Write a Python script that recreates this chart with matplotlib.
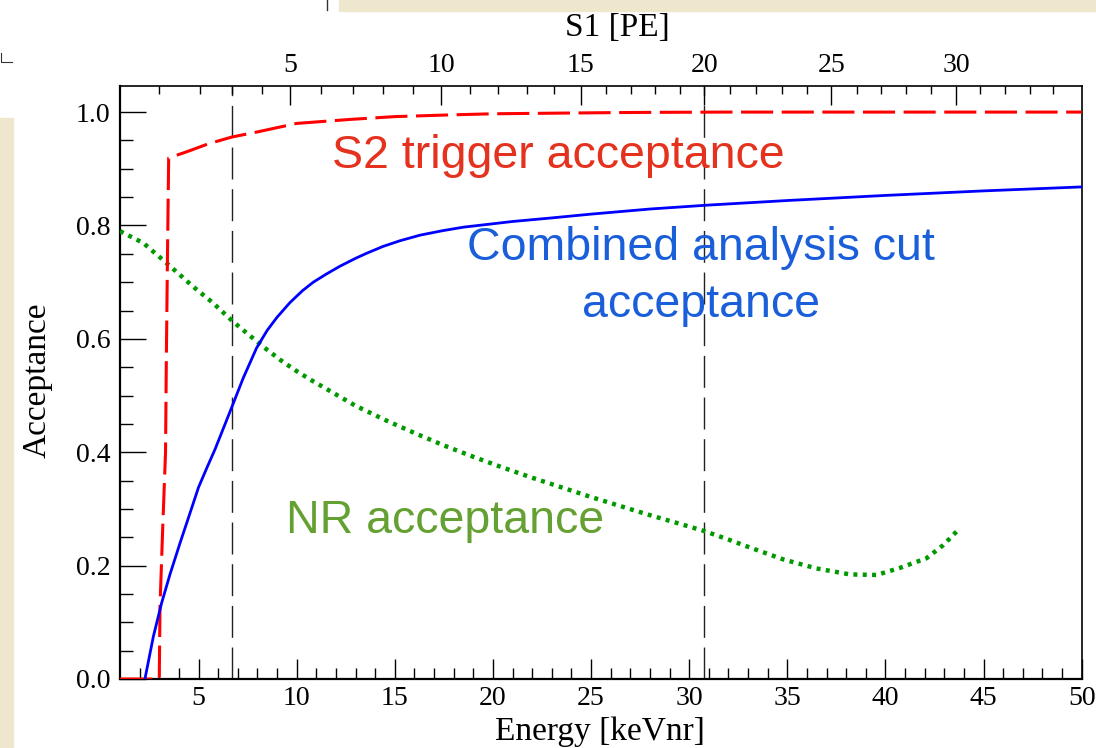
import matplotlib
matplotlib.use("Agg")
import matplotlib.pyplot as plt
from matplotlib.patches import Rectangle
from matplotlib.lines import Line2D

# Times-like serif for the axes, Helvetica-like sans for the annotations
plt.rcParams["font.family"] = ["Liberation Serif", "DejaVu Serif"]

# S2 trigger acceptance (red dashed)
s2_energy = [1.0, 3.0, 3.04, 3.18, 3.32, 3.36, 3.42, 3.48, 4.4, 5.5, 6.7, 8.0, 10.0,
             12.7, 15.0, 17.8, 20.0, 22.9, 26.0, 28.0, 32.0, 50.0]
s2_acc = [0.0, 0.0, 0.13, 0.27, 0.40, 0.56, 0.75, 0.919, 0.930, 0.944, 0.956, 0.965, 0.980,
          0.987, 0.992, 0.995, 0.997, 0.998, 0.999, 0.9995, 1.0, 1.0]

# combined analysis cut acceptance (blue solid)
cut_energy = [2.27, 2.7, 3.12, 3.55, 4.06, 4.57, 5.0, 5.42, 5.84, 6.3, 6.69, 7.28, 7.96,
              8.5, 9.0, 9.66, 10.3, 10.85, 11.5, 12.2, 13.0, 13.57, 14.4, 15.26, 16.3,
              17.47, 18.5, 19.5, 21.0, 22.9, 25.0, 28.0, 31.0, 35.0, 40.0, 45.0, 50.0]
cut_acc = [0.0, 0.075, 0.134, 0.185, 0.24, 0.293, 0.338, 0.372, 0.405, 0.445, 0.479,
           0.531, 0.584, 0.615, 0.638, 0.664, 0.685, 0.700, 0.714, 0.728, 0.742, 0.751,
           0.763, 0.773, 0.783, 0.791, 0.797, 0.801, 0.807, 0.813, 0.820, 0.829, 0.836,
           0.844, 0.853, 0.861, 0.868]

# NR acceptance (green dotted)
nr_energy = [1.0, 2.19, 3.46, 4.73, 5.75, 6.77, 8.3, 9.2, 10.0, 10.8, 11.5, 13.0, 14.5,
             16.0, 17.5, 19.0, 20.5, 22.0, 23.5, 25.0, 26.5, 28.0, 29.5, 30.77, 32.0,
             33.09, 34.79, 36.49, 38.19, 39.55, 40.74, 42.09, 42.94, 43.79]
nr_acc = [0.79, 0.769, 0.731, 0.692, 0.663, 0.630, 0.586, 0.562, 0.543, 0.526, 0.512,
          0.482, 0.457, 0.434, 0.412, 0.392, 0.373, 0.355, 0.338, 0.321, 0.305, 0.289,
          0.274, 0.261, 0.246, 0.232, 0.211, 0.195, 0.1845, 0.1835, 0.196, 0.213, 0.236,
          0.266]

# S1 window boundaries (S1 = 3 and 20 PE) in energy
window_energy = [6.69, 30.77]

# top axis: S1 [PE] tick values and where they sit in energy
s1_values = list(range(1, 35))
s1_energy = [3.00, 5.08, 6.69, 8.22, 9.66, 11.24, 12.85, 14.41, 15.91, 17.38, 18.83,
             20.27, 21.72, 23.12, 24.48, 25.76, 27.02, 28.25, 29.53, 30.77, 32.08, 33.40,
             34.71, 35.98, 37.25, 38.53, 39.77, 41.04, 42.31, 43.59, 44.81, 46.08, 47.36,
             48.54]

fig = plt.figure(figsize=(10.96, 7.48), dpi=100, facecolor="white")

# slide background bits around the picture
beige = "#efe7cd"
fig.patches.append(Rectangle((339 / 1096, 1 - 10.5 / 748), 1, 0.02,
                             transform=fig.transFigure, color=beige, zorder=-5))
fig.patches.append(Rectangle((0, 0), 12.5 / 1096, (748 - 118) / 748,
                             transform=fig.transFigure, color=beige, zorder=-5))
fig.lines.append(Line2D([327 / 1096, 327 / 1096], [1, 1 - 10 / 748],
                        transform=fig.transFigure, color="#333333", lw=1))
fig.lines.append(Line2D([1 / 1096, 1 / 1096, 12 / 1096], [1 - 53 / 748, 1 - 62 / 748, 1 - 62 / 748],
                        transform=fig.transFigure, color="#333333", lw=0.8))

ax = fig.add_axes([120 / 1096, 1 - 679 / 748, 961.7 / 1096, 593 / 748])

ax.plot(nr_energy, nr_acc, color="#009a00", lw=3.2, linestyle=(0, (0.9, 1.2)), zorder=3)
ax.plot(s2_energy, s2_acc, color="#ff0000", lw=2.2, linestyle=(0, (10.5, 2.8)), zorder=4)
ax.plot(cut_energy, cut_acc, color="#0000ff", lw=2.0, zorder=5)
for e in window_energy:
    ax.axvline(e, color="#222222", lw=1.0, linestyle=(0, (23, 7)), zorder=2)

ax.set_xlim(1, 50)
ax.set_ylim(0, 1.046)
ax.set_xticks([5, 10, 15, 20, 25, 30, 35, 40, 45, 50])
ax.set_xticks(range(2, 50), minor=True)
ax.set_yticks([0.0, 0.2, 0.4, 0.6, 0.8, 1.0])
ax.set_yticklabels(["0.0", "0.2", "0.4", "0.6", "0.8", "1.0"])
ax.set_yticks([i * 0.05 for i in range(21)], minor=True)
ax.tick_params(axis="x", which="both", direction="in", top=False, labelsize=20, pad=5, width=1.0)
ax.tick_params(axis="x", which="major", length=14.5)
ax.tick_params(axis="x", which="minor", length=8)
ax.tick_params(axis="y", which="both", direction="in", right=False, labelsize=20, pad=7, width=1.0)
ax.tick_params(axis="y", which="major", length=18.5)
ax.tick_params(axis="y", which="minor", length=9.5)
for side in ["left", "bottom"]:
    ax.spines[side].set_linewidth(1.6)
for side in ["top", "right"]:
    ax.spines[side].set_linewidth(1.2)

# top S1 axis
ax2 = ax.twiny()
ax2.set_xlim(ax.get_xlim())
major_e = [e for v, e in zip(s1_values, s1_energy) if v % 5 == 0]
major_l = [str(v) for v in s1_values if v % 5 == 0]
minor_e = [e for v, e in zip(s1_values, s1_energy) if v % 5 != 0]
ax2.set_xticks(major_e)
ax2.set_xticklabels(major_l)
ax2.set_xticks(minor_e, minor=True)
ax2.tick_params(axis="x", which="both", direction="in", labelsize=20, pad=6, width=1.0)
ax2.tick_params(axis="x", which="major", length=13.5)
ax2.tick_params(axis="x", which="minor", length=6)
for sp in ax2.spines.values():
    sp.set_visible(False)

# axis titles
fig.text(600 / 1096, 1 - 732 / 748, "Energy [keVnr]", fontsize=24, ha="center", va="center")
fig.text(617 / 1096, 1 - 28 / 748, "S1 [PE]", fontsize=24, ha="center", va="center")
fig.text(37 / 1096, 1 - 380 / 748, "Acceptance", fontsize=24, ha="center", va="center",
         rotation=90)

# curve annotations
sans = ["Liberation Sans", "DejaVu Sans"]
ax.text(23.34, 0.9017, "S2 trigger acceptance", family=sans, fontsize=33.5,
        color="#e4321e", ha="center", va="baseline")
ax.text(30.62, 0.7394, "Combined analysis cut", family=sans, fontsize=33.5,
        color="#1a5fd9", ha="center", va="baseline")
ax.text(30.62, 0.6388, "acceptance", family=sans, fontsize=33.5,
        color="#1a5fd9", ha="center", va="baseline")
ax.text(17.56, 0.2576, "NR acceptance", family=sans, fontsize=33.5,
        color="#64a032", ha="center", va="baseline")

fig.savefig("out.png", dpi=100)
